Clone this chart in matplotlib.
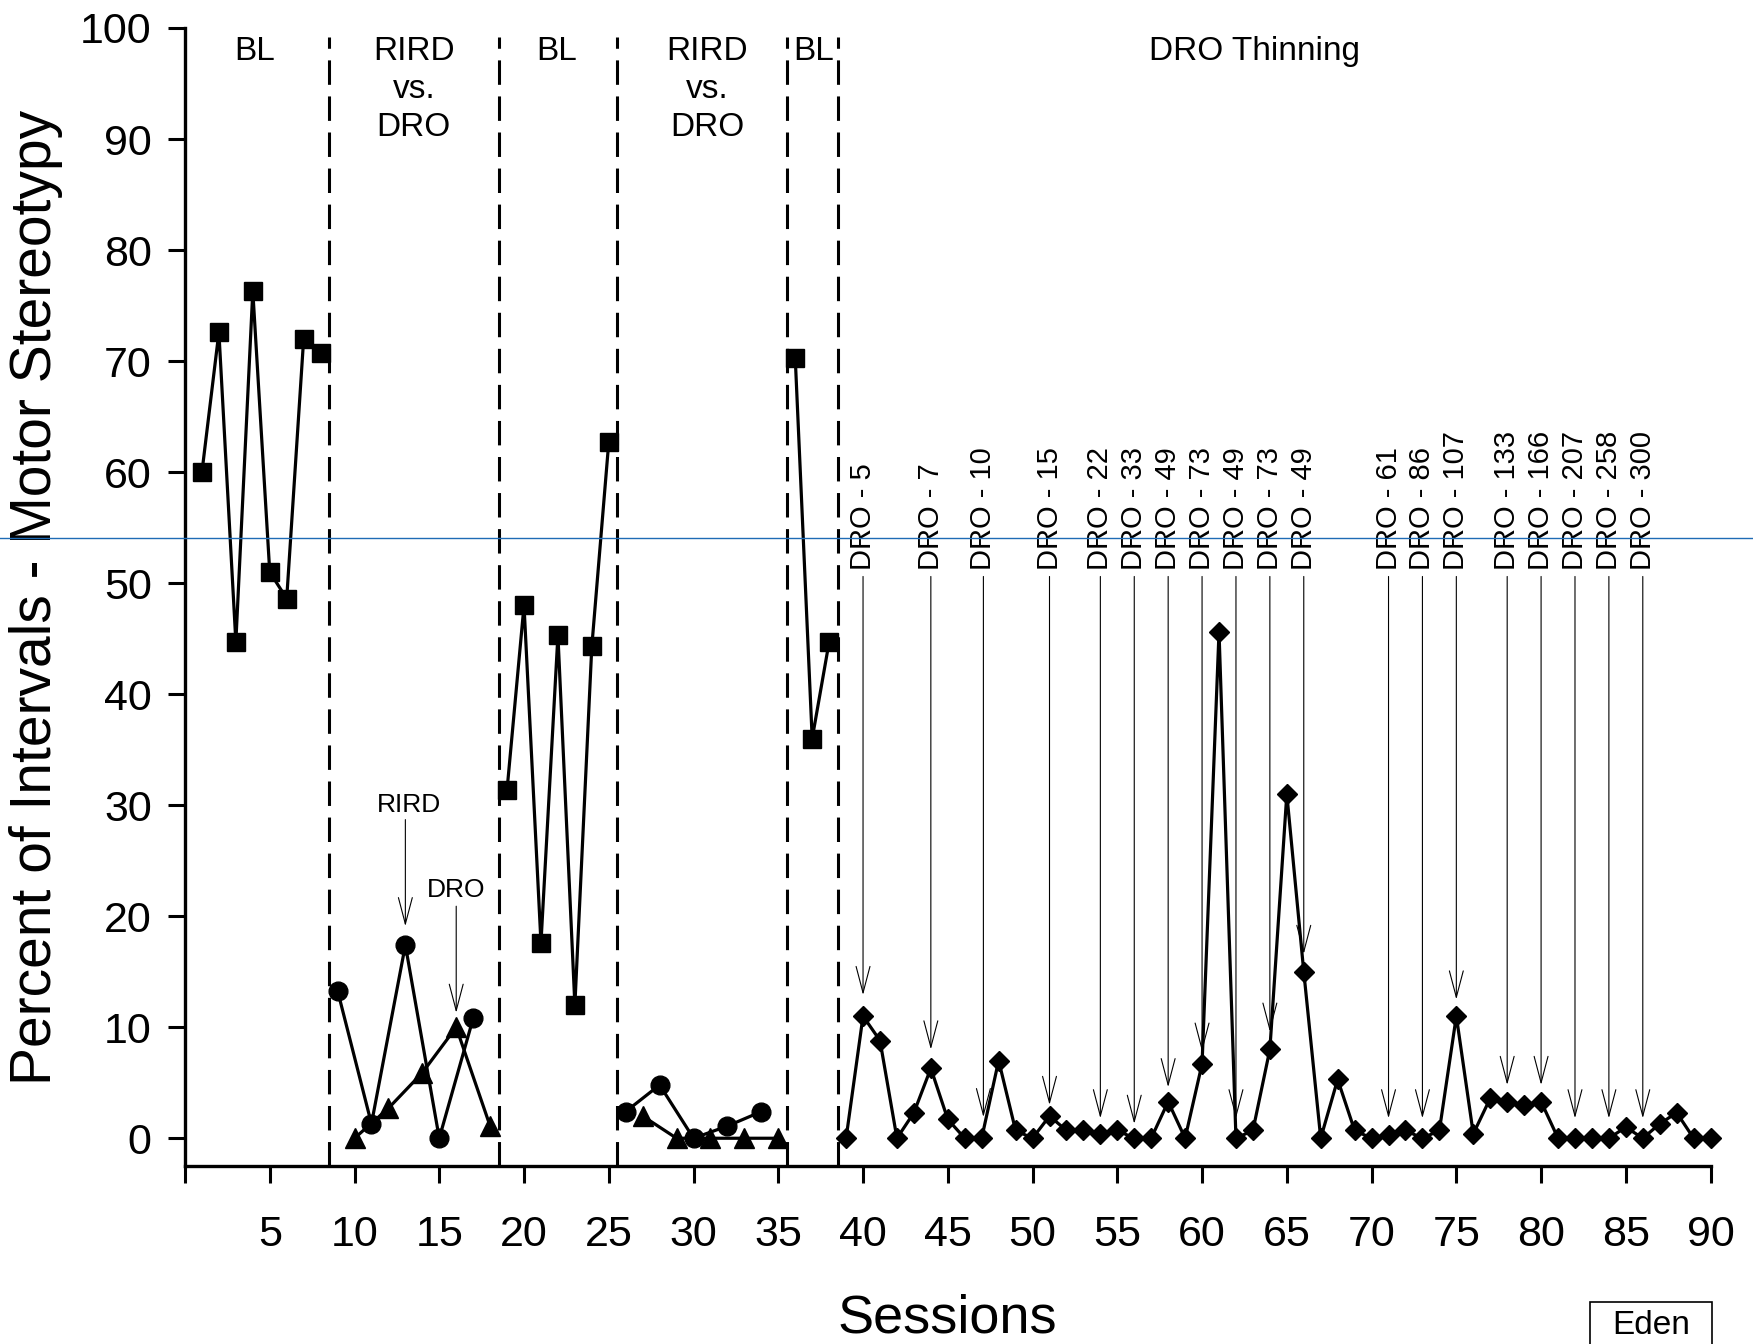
import matplotlib
matplotlib.use('Agg')
import matplotlib.pyplot as plt
from matplotlib.lines import Line2D
from matplotlib.patches import Rectangle

plt.rcParams['font.family'] = ['Liberation Sans', 'DejaVu Sans']

# Baseline phases (squares)
bl1_sessions = [1, 2, 3, 4, 5, 6, 7, 8]
bl1_pct = [60.0, 72.6, 44.7, 76.3, 51.0, 48.6, 72.0, 70.7]
bl2_sessions = [19, 20, 21, 22, 23, 24, 25]
bl2_pct = [31.4, 48.0, 17.6, 45.3, 12.0, 44.3, 62.7]
bl3_sessions = [36, 37, 38]
bl3_pct = [70.3, 36.0, 44.7]

# RIRD vs. DRO alternating treatments
rird1_sessions = [9, 11, 13, 15, 17]
rird1_pct = [13.3, 1.3, 17.4, 0.0, 10.8]
dro1_sessions = [10, 12, 14, 16, 18]
dro1_pct = [0.0, 2.7, 5.9, 10.0, 1.1]
rird2_sessions = [26, 28, 30, 32, 34]
rird2_pct = [2.4, 4.8, 0.0, 1.1, 2.4]
dro2_sessions = [27, 29, 31, 33, 35]
dro2_pct = [2.0, 0.0, 0.0, 0.0, 0.0]

# DRO thinning (diamonds)
thin_sessions = list(range(39, 91))
thin_pct = [0.0, 11.0, 8.8, 0.0, 2.3, 6.3, 1.7, 0.0, 0.0, 7.0,
            0.7, 0.0, 2.0, 0.7, 0.7, 0.4, 0.7, 0.0, 0.0, 3.3,
            0.0, 6.7, 45.6, 0.0, 0.7, 8.0, 31.0, 15.0, 0.0, 5.3,
            0.7, 0.0, 0.3, 0.7, 0.0, 0.7, 11.0, 0.4, 3.6, 3.3,
            3.0, 3.3, 0.0, 0.0, 0.0, 0.0, 1.0, 0.0, 1.3, 2.3,
            0.0, 0.0]

# phase change lines and labels
phase_changes = [8.5, 18.5, 25.5, 35.5, 38.5]
phase_names = ['BL', 'RIRD\nvs.\nDRO', 'BL', 'RIRD\nvs.\nDRO', 'BL', 'DRO Thinning']
phase_label_x = [4.1, 13.5, 21.9, 30.8, 37.1, 63.1]

# DRO interval steps (seconds) and where they start
dro_steps = ['5', '7', '10', '15', '22', '33', '49', '73', '49', '73', '49',
             '61', '86', '107', '133', '166', '207', '258', '300']
dro_step_sessions = [40, 44, 47.1, 51, 54, 56, 58, 60, 62, 64, 66,
                     71, 73, 75, 78, 80, 82, 84, 86]
dro_arrow_tips = [12.9, 8.0, 1.9, 3.0, 1.8, 1.3, 4.6, 7.8, 1.8, 9.6, 16.6,
                  1.8, 1.8, 12.5, 4.8, 4.8, 1.8, 1.8, 1.8]

fig = plt.figure(figsize=(17.53, 13.44), dpi=100)
ax = fig.add_axes([0.10553, 0.13244, 0.87028, 0.84673])

line_kw = dict(color='black', lw=2.3, clip_on=False, zorder=3)
for xs, ys in [(bl1_sessions, bl1_pct), (bl2_sessions, bl2_pct), (bl3_sessions, bl3_pct)]:
    ax.plot(xs, ys, marker='s', ms=13, **line_kw)
for xs, ys in [(rird1_sessions, rird1_pct), (rird2_sessions, rird2_pct)]:
    ax.plot(xs, ys, marker='o', ms=13.5, **line_kw)
for xs, ys in [(dro1_sessions, dro1_pct), (dro2_sessions, dro2_pct)]:
    ax.plot(xs, ys, marker='^', ms=14, **line_kw)
ax.plot(thin_sessions, thin_pct, marker='D', ms=10.5, **line_kw)

for xc in phase_changes:
    ax.plot([xc, xc], [-2.5, 99.2], color='black', lw=2.2,
            linestyle=(0, (8.0, 3.8)), zorder=2, clip_on=False)

for name, xc in zip(phase_names, phase_label_x):
    ax.text(xc, 99.3, name, ha='center', va='top', fontsize=24,
            linespacing=1.3)

# arrows marking each new DRO interval
arrow_kw = dict(arrowstyle='->,head_length=1.9,head_width=0.5', color='black',
                lw=0.8, shrinkA=0, shrinkB=0, mutation_scale=10)
for step, xs, tip in zip(dro_steps, dro_step_sessions, dro_arrow_tips):
    ax.text(xs, 51.2, 'DRO - ' + step, rotation=90, ha='center', va='bottom',
            fontsize=21)
    ax.annotate('', xy=(xs, tip), xytext=(xs, 50.6), arrowprops=arrow_kw)

ax.text(13.2, 30.0, 'RIRD', ha='center', va='center', fontsize=19)
ax.annotate('', xy=(13, 19.1), xytext=(13, 28.7), arrowprops=arrow_kw)
ax.text(16.0, 22.4, 'DRO', ha='center', va='center', fontsize=19)
ax.annotate('', xy=(16, 11.3), xytext=(16, 20.9), arrowprops=arrow_kw)

ax.set_xlim(0, 90)
ax.set_ylim(-2.5, 100)
ax.set_xticks(range(0, 91, 5))
ax.set_xticklabels([''] + [str(v) for v in range(5, 91, 5)])
ax.set_yticks(range(0, 101, 10))
ax.spines['top'].set_visible(False)
ax.spines['right'].set_visible(False)
ax.spines['left'].set_bounds(-2.5, 100)
for side in ['left', 'bottom']:
    ax.spines[side].set_linewidth(2.4)
ax.tick_params(axis='both', length=12, width=2.2, labelsize=31)
ax.tick_params(axis='x', pad=23)
ax.tick_params(axis='y', pad=12)

ax.set_xlabel('Sessions', fontsize=39, labelpad=28)
ax.set_ylabel('Percent of Intervals - Motor Stereotypy', fontsize=41, labelpad=12)

# participant tag in the lower right corner
fig.add_artist(Rectangle((1590 / 1753, -0.05), 122 / 1753, (1344 - 1302) / 1344 + 0.05,
                         transform=fig.transFigure, fill=False, ec='black', lw=1.2))
fig.text(1651 / 1753, 1 - 1310 / 1344, 'Eden', ha='center', va='top', fontsize=24)

# thin blue reference line across the page
fig.add_artist(Line2D([0, 1], [0.6, 0.6], transform=fig.transFigure,
                      color='#1f6bb5', lw=1.0))

fig.savefig('out.png', dpi=100)
